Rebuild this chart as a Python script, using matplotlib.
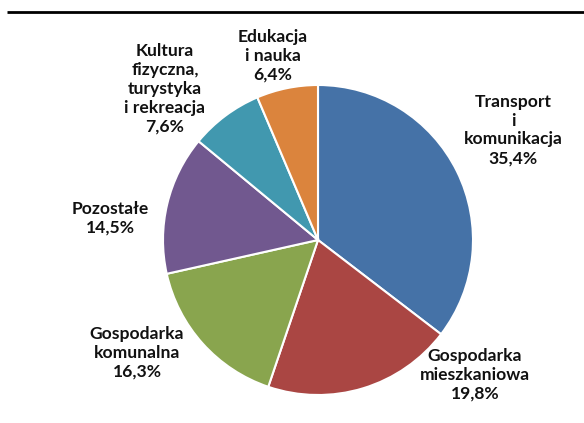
import matplotlib.pyplot as plt

# dane (udział w %)
categories = ["Transport\ni\nkomunikacja", "Gospodarka\nmieszkaniowa", "Gospodarka\nkomunalna",
              "Pozostałe", "Kultura\nfizyczna,\nturystyka\ni rekreacja", "Edukacja\ni nauka"]
shares = [35.4, 19.8, 16.3, 14.5, 7.6, 6.4]
colors = ["#4572A7", "#AA4643", "#89A54E", "#71588F", "#4198AF", "#DB843D"]

# pozycje etykiet w pikselach (x, y od góry)
label_pos = [(513, 130), (475, 375), (137, 353), (110, 218), (165, 89), (273, 56)]

W, H = 584, 423
fig = plt.figure(figsize=(W / 100, H / 100), dpi=100)
ax = fig.add_axes([0, 0, 1, 1])

ax.pie(shares, colors=colors, startangle=90, counterclock=False,
       center=(318, H - 240), radius=155, frame=True,
       wedgeprops=dict(edgecolor="white", linewidth=1.5))
ax.set_xlim(0, W)
ax.set_ylim(0, H)
ax.axis("off")

for name, val, (x, y) in zip(categories, shares, label_pos):
    txt = name + "\n" + ("%.1f%%" % val).replace(".", ",")
    ax.text(x, H - y, txt, ha="center", va="center", fontsize=12.6,
            fontweight="bold", family="Lato", color="#111111", linespacing=1.22)

# linia u góry
ax.plot([7, W], [H - 12, H - 12], color="black", lw=2, solid_capstyle="butt")

fig.savefig("out.png", dpi=100)
